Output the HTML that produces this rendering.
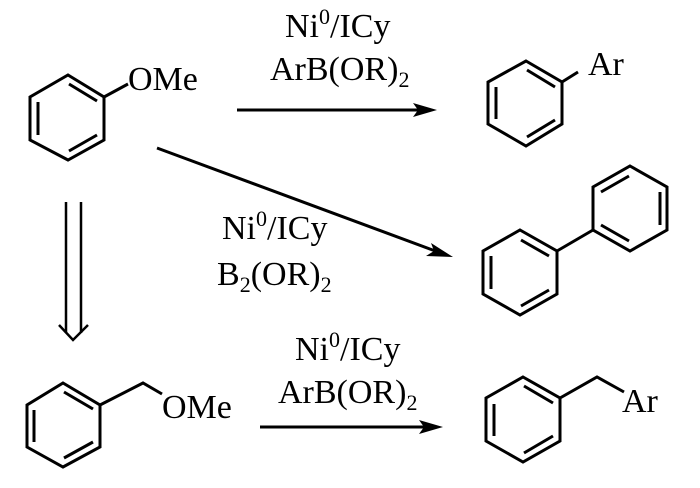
<!DOCTYPE html>
<html><head><meta charset="utf-8"><style>
html,body{margin:0;padding:0;background:#fff;}
svg{display:block;}
text{font-family:"Liberation Serif","Times New Roman",serif;font-size:34px;fill:#000;}
</style></head><body>
<svg width="700" height="488" viewBox="0 0 700 488" xmlns="http://www.w3.org/2000/svg">
<g stroke="#000" stroke-width="3" fill="none" stroke-linejoin="miter">
<polygon points="68,75 104,97 104,140 68,160 30,140 30,97"/>
<line x1="69" y1="84" x2="97" y2="101"/><line x1="38" y1="102" x2="38" y2="135"/><line x1="69" y1="151" x2="97" y2="135"/>
<line x1="104" y1="97" x2="128" y2="84"/>
<polygon points="526,61 562,82 562,124 526,146 488,124 488,82"/>
<line x1="527" y1="70" x2="555" y2="87"/><line x1="496" y1="87" x2="496" y2="119"/><line x1="527" y1="137" x2="555" y2="120"/>
<line x1="562" y1="82" x2="578" y2="72"/>
<polygon points="630,166 667,187 667,230 630,251 593,230 593,187"/>
<line x1="601" y1="192" x2="629" y2="176"/><line x1="660" y1="192" x2="660" y2="225"/><line x1="601" y1="225" x2="629" y2="241"/>
<polygon points="520,230 557,251 557,294 520,315 483,294 483,251"/>
<line x1="521" y1="240" x2="549" y2="256"/><line x1="491" y1="256" x2="491" y2="289"/><line x1="521" y1="306" x2="549" y2="290"/>
<line x1="557" y1="251" x2="593" y2="230"/>
<polygon points="63,383 100,405 100,447 63,467 27,447 27,405"/>
<line x1="64" y1="392" x2="93" y2="409"/><line x1="34" y1="410" x2="34" y2="442"/><line x1="64" y1="458" x2="93" y2="442"/>
<polyline points="100,405 143,383 162,394"/>
<polygon points="523,377 560,398 560,441 523,462 486,441 486,398"/>
<line x1="524" y1="386" x2="553" y2="403"/><line x1="494" y1="404" x2="494" y2="436"/><line x1="524" y1="453" x2="553" y2="436"/>
<polyline points="560,398 597,377 624,392"/>
<line x1="237" y1="110" x2="420" y2="110"/>
<line x1="157" y1="148" x2="438" y2="252"/>
<line x1="260" y1="427" x2="426" y2="427"/>
<line x1="66" y1="202" x2="66" y2="333" stroke-width="2.5"/>
<line x1="81" y1="202" x2="81" y2="333" stroke-width="2.5"/>
<polyline points="59,325 73,340 88,325" stroke-width="2.5"/>
</g>
<g fill="#000">
<polygon points="437,110 413,103 418,110 413,117"/>
<polygon points="453,257 431,243 434,251 426,256"/>
<polygon points="443,427 419,420 424,427 419,434"/>
</g>
<text x="128" y="90">OMe</text>
<text x="588" y="75">Ar</text>
<text x="162" y="418">OMe</text>
<text x="622" y="412">Ar</text>
<text x="285" y="37">Ni<tspan font-size="22" dy="-13">0</tspan><tspan dy="13">/ICy</tspan></text>
<text x="270" y="80">ArB(OR)<tspan font-size="22" dy="7">2</tspan></text>
<text x="222" y="239">Ni<tspan font-size="22" dy="-13">0</tspan><tspan dy="13">/ICy</tspan></text>
<text x="217" y="285">B<tspan font-size="22" dy="7">2</tspan><tspan dy="-7">(OR)</tspan><tspan font-size="22" dy="7">2</tspan></text>
<text x="295" y="360">Ni<tspan font-size="22" dy="-13">0</tspan><tspan dy="13">/ICy</tspan></text>
<text x="278" y="403">ArB(OR)<tspan font-size="22" dy="7">2</tspan></text>
</svg>
</body></html>
